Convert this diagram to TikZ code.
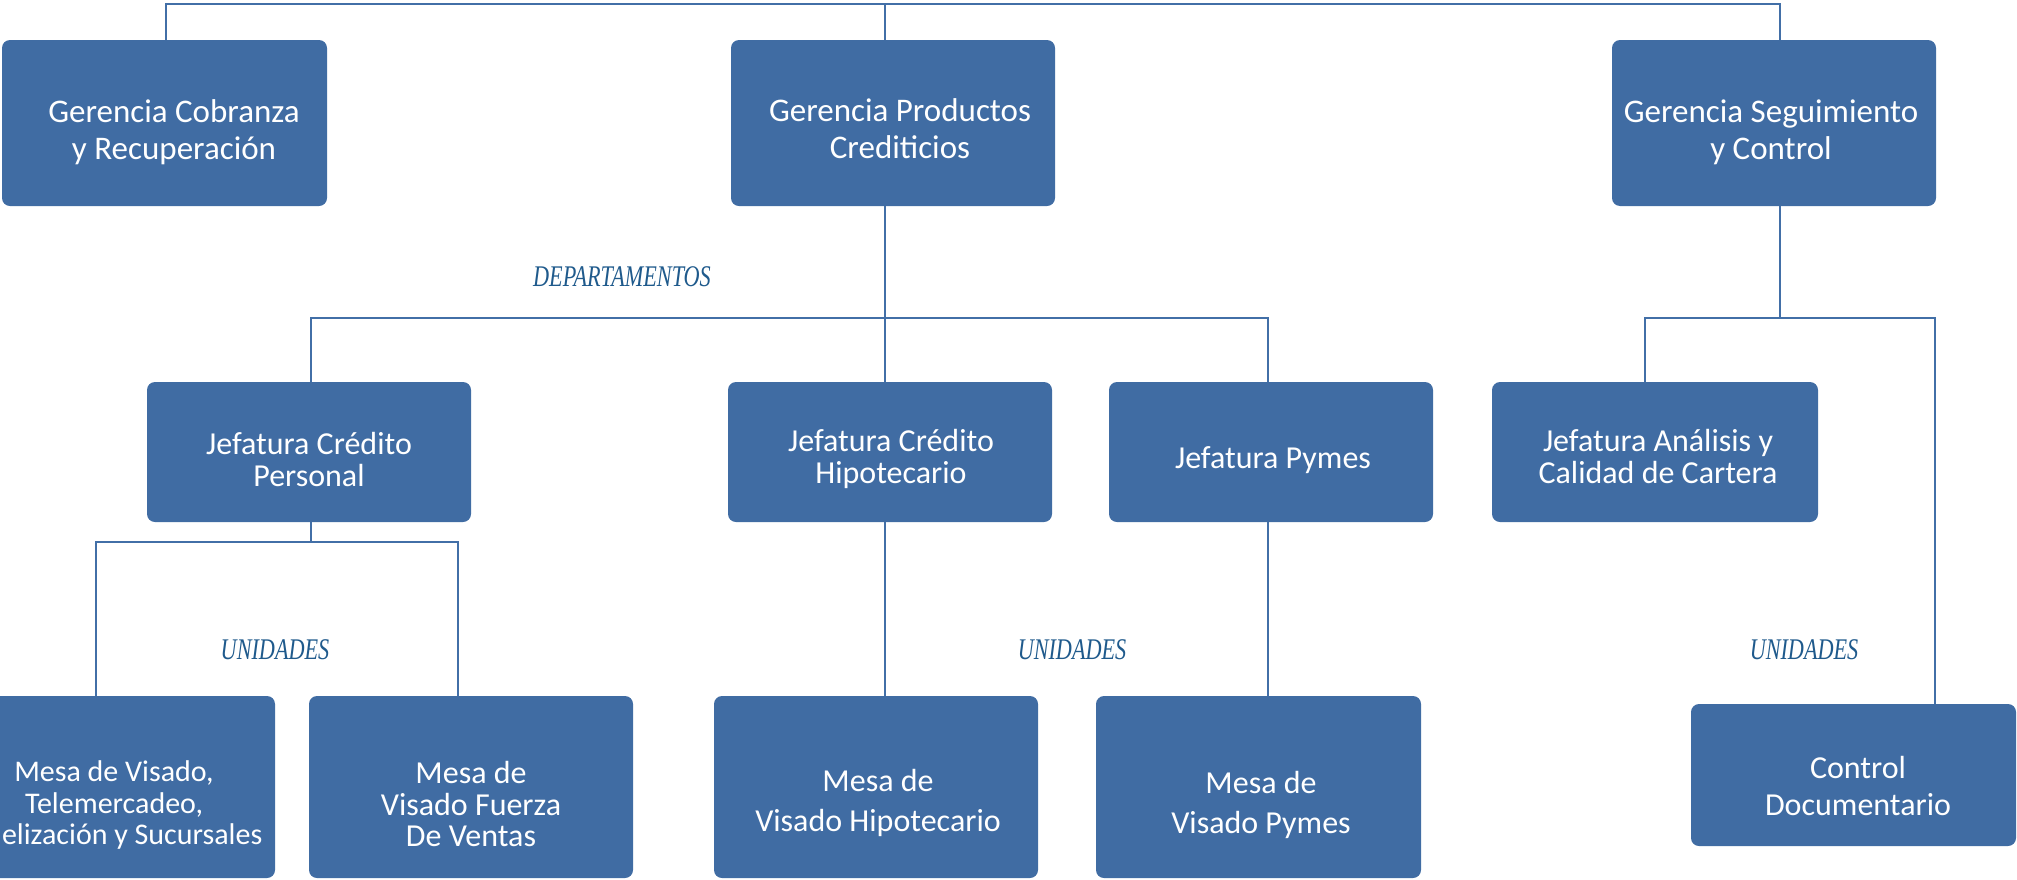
\documentclass[tikz,border=0pt]{standalone}
\usepackage{fontspec}
\setmainfont{Carlito}
\newfontfamily\lblfont{Liberation Serif}
\definecolor{boxblue}{RGB}{64,108,163}
\definecolor{lineblue}{RGB}{66,111,167}
\definecolor{lblblue}{RGB}{31,90,140}
\tikzset{
  orgbox/.style 2 args={rounded corners=4pt, fill=boxblue, draw=none, inner sep=0pt, outer sep=0pt, minimum width=#1, minimum height=#2},
  conn/.style={draw=lineblue, line width=1.35pt},
  boxtext/.style 2 args={text=white, align=center, inner sep=0pt, font=\fontsize{#1}{#2}\selectfont},
  lbl/.style={text=lblblue, inner sep=0pt, font=\lblfont\itshape\fontsize{15}{18}\selectfont}
}
\begin{document}
\begin{tikzpicture}[x=0.5pt,y=-0.5pt]
\useasboundingbox (0,0) rectangle (2017,879);
\clip (0,0) rectangle (2017,879);

% boxes
\node[orgbox={162.5pt}{83pt}] (gc) at (164.5,123) {};
\node[orgbox={162pt}{83pt}] (gp) at (893,123) {};
\node[orgbox={162pt}{83pt}] (gs) at (1774,123) {};
\node[orgbox={162pt}{70pt}] (jcp) at (309,452) {};
\node[orgbox={162pt}{70pt}] (jch) at (890,452) {};
\node[orgbox={162pt}{70pt}] (jp) at (1271,452) {};
\node[orgbox={163pt}{70pt}] (ja) at (1655,452) {};
\node[orgbox={162.5pt}{71pt}] (cd) at (1853.5,775) {};
\node[orgbox={162pt}{91pt}] (mv) at (113,787) {};
\node[orgbox={162pt}{91pt}] (mvf) at (471,787) {};
\node[orgbox={162pt}{91pt}] (mvh) at (876,787) {};
\node[orgbox={162.5pt}{91pt}] (mvp) at (1258.5,787) {};

% bus coordinates
\coordinate (t1) at (166,4);
\coordinate (t2) at (885,4);
\coordinate (t3) at (1780,4);
\coordinate (b1) at (311,318);
\coordinate (b2) at (885,318);
\coordinate (b3) at (1268,318);
\coordinate (c0) at (1645,318);
\coordinate (c1) at (1780,318);
\coordinate (c2) at (1935,318);
\coordinate (d0) at (96,542);
\coordinate (d1) at (311,542);
\coordinate (d2) at (458,542);

% connectors
\draw[conn] (gc.north -| t1) -- (t1) -- (t3) -- (gs.north -| t3);
\draw[conn] (gp.north -| t2) -- (t2);
\draw[conn] (gp.south -| b2) -- (b2);
\draw[conn] (jcp.north -| b1) -- (b1) -- (b3) -- (jp.north -| b3);
\draw[conn] (b2) -- (jch.north -| b2);
\draw[conn] (gs.south -| c1) -- (c1);
\draw[conn] (ja.north -| c0) -- (c0) -- (c2) -- (cd.north -| c2);
\draw[conn] (jcp.south -| d1) -- (d1);
\draw[conn] (mv.north -| d0) -- (d0) -- (d2) -- (mvf.north -| d2);
\draw[conn] (jch.south -| b2) -- (mvh.north -| b2);
\draw[conn] (jp.south -| b3) -- (mvp.north -| b3);

% box texts
\node[boxtext={16.5}{18.5}] (gct) at (174,132) {Gerencia Cobranza\\y Recuperación};
\node[boxtext={16.5}{18.5}] (gpt) at (900,129) {Gerencia Productos\\Crediticios};
\node[boxtext={16.5}{18.5}] (gst) at (1771,132) {Gerencia Seguimiento\\y Control};
\node[boxtext={16}{16}] (jcpt) at (309,459) {Jefatura Crédito\\Personal};
\node[boxtext={16}{16}] (jcht) at (891,459) {Jefatura Crédito\\Hipotecario};
\node[boxtext={16}{16}] (jpt) at (1273,460) {Jefatura Pymes};
\node[boxtext={16}{16}] (jat) at (1658,456) {Jefatura Análisis y\\Calidad de Cartera};
\node[boxtext={16}{18.8}] (cdt) at (1858,786) {Control\\Documentario};
\node[boxtext={15}{15.75}] (mvt) at (114,805) {Mesa de Visado,\\Telemercadeo,\\Fidelización y Sucursales};
\node[boxtext={16}{15.75}] (mvft) at (471,804) {Mesa de\\Visado Fuerza\\De Ventas};
\node[boxtext={16}{19.8}] (mvht) at (878,803) {Mesa de\\Visado Hipotecario};
\node[boxtext={16}{19.8}] (mvpt) at (1261,805) {Mesa de\\Visado Pymes};

% labels
\node[lbl] (dep) at (622,277) {\scalebox{0.74}[1]{DEPARTAMENTOS}};
\node[lbl] (un1) at (275,650) {\scalebox{0.74}[1]{UNIDADES}};
\node[lbl] (un2) at (1072,650) {\scalebox{0.74}[1]{UNIDADES}};
\node[lbl] (un3) at (1804,650) {\scalebox{0.74}[1]{UNIDADES}};
\end{tikzpicture}
\end{document}
